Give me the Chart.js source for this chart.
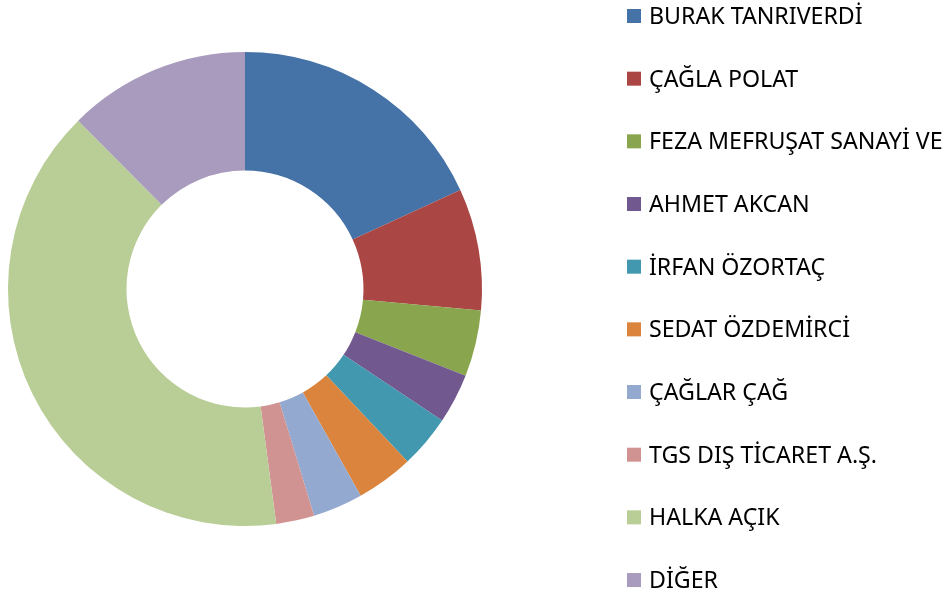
<!DOCTYPE html>
<html>
<head>
<meta charset="utf-8">
<script src="https://cdn.jsdelivr.net/npm/chart.js@4"></script>
<style>
  html, body { margin: 0; padding: 0; background: #fff; }
  #wrap { width: 949px; height: 599px; position: relative; }
</style>
</head>
<body>
<div id="wrap"><canvas id="pieChart"></canvas></div>
<script>
const labels = [
  "BURAK TANRIVERDİ",
  "ÇAĞLA POLAT",
  "FEZA MEFRUŞAT SANAYİ VE",
  "AHMET AKCAN",
  "İRFAN ÖZORTAÇ",
  "SEDAT ÖZDEMİRCİ",
  "ÇAĞLAR ÇAĞ",
  "TGS DIŞ TİCARET A.Ş.",
  "HALKA AÇIK",
  "DİĞER"
]
const shares = [18.1, 8.3, 4.5, 3.4, 3.6, 3.9, 3.4, 2.6, 39.6, 12.4]
const colors = [
  "#4572A7", "#AA4643", "#89A54E", "#71588F", "#4198AF",
  "#DB843D", "#93A9CF", "#D19392", "#B9CD96", "#A99BBD"
]

// legend drawn on the right, one item per row
const sideLegend = {
  id: "sideLegend",
  afterDraw(chart) {
    const ctx = chart.ctx
    const meta = chart.getDatasetMeta(0)
    ctx.save()
    ctx.font = "23.2px 'Noto Sans'"
    ctx.textBaseline = "alphabetic"
    ctx.textAlign = "left"
    chart.data.labels.forEach((label, i) => {
      const baseline = 24 + i * 62.67
      ctx.fillStyle = meta.data[i].options.backgroundColor
      ctx.fillRect(627, baseline - 15, 14, 14)
      ctx.fillStyle = "#000000"
      ctx.fillText(label, 649, baseline)
    })
    ctx.restore()
  }
}

const pieConfig = {
  type: "doughnut",
  data: {
    labels: labels,
    datasets: [
      {
        data: shares,
        backgroundColor: colors,
        borderWidth: 0,
        hoverOffset: 0,
      },
    ],
  },
  options: {
    responsive: true,
    maintainAspectRatio: false,
    animation: false,
    cutout: "50%",
    layout: {
      padding: { left: 8, top: 52, right: 467, bottom: 73 },
    },
    plugins: {
      legend: { display: false },
      tooltip: { enabled: false },
    },
  },
  plugins: [sideLegend],
}

new Chart(document.getElementById("pieChart"), pieConfig)
</script>
</body>
</html>
